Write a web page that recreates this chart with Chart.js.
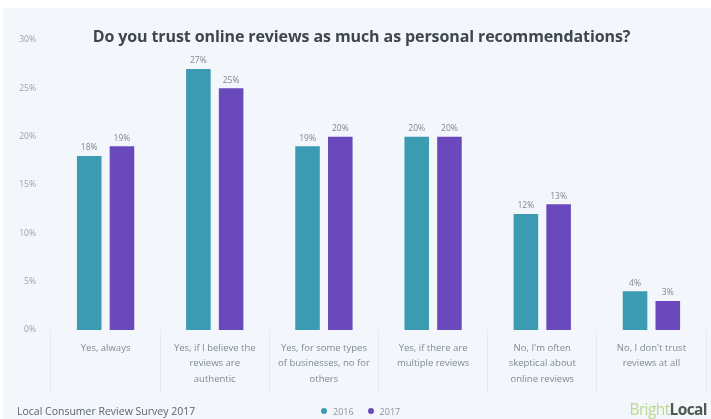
<!DOCTYPE html>
<html>
<head>
<meta charset="utf-8">
<title>Online reviews vs personal recommendations</title>
<script src="https://cdn.jsdelivr.net/npm/chart.js@4.4.1/dist/chart.umd.min.js"></script>
<style>
  html, body { margin: 0; padding: 0; background: #fff; }
  #wrap { position: relative; width: 711px; height: 419px; overflow: hidden; font-family: "Open Sans", sans-serif; }
  #panel { position: absolute; left: 3px; top: 8px; right: 0; bottom: 0; background: #f3f6fa; }
  #chart { position: absolute; left: 0; top: 0; }
  #title { position: absolute; left: 6px; top: 25px; width: 711px; text-align: center;
           font-size: 16px; font-weight: 700; color: #3f4651; letter-spacing: -0.1px; }
  #source { position: absolute; left: 17px; top: 404px; font-size: 10.5px; color: #5b6470; }
  #legend { position: absolute; left: 321px; top: 405px; font-size: 9px; color: #8a939d; }
  #legend span { margin-right: 14px; }
  #legend i { display: inline-block; width: 6px; height: 6px; border-radius: 50%; margin-right: 6px; vertical-align: 1px; }
  #logo { position: absolute; right: 4px; top: 398px; font-size: 15.5px; letter-spacing: -0.6px; }
  #logo .b { color: #bcd98e; }
  #logo .l { color: #4d5a52; font-weight: 700; }
</style>
</head>
<body>
<div id="wrap">
  <div id="panel"></div>
  <canvas id="chart" width="711" height="419"></canvas>
  <div id="title">Do you trust online reviews as much as personal recommendations?</div>
  <div id="source">Local Consumer Review Survey 2017</div>
  <div id="legend"></div>
  <div id="logo"><span class="b">Bright</span><span class="l">Local</span></div>
</div>
<script>
const categories = [
  ["Yes, always"],
  ["Yes, if I believe the", "reviews are", "authentic"],
  ["Yes, for some types", "of businesses, no for", "others"],
  ["Yes, if there are", "multiple reviews"],
  ["No, I'm often", "skeptical about", "online reviews"],
  ["No, I don't trust", "reviews at all"]
];
const years = ["2016", "2017"];
const share2016 = [18, 27, 19, 20, 12, 4];
const share2017 = [19, 25, 20, 20, 13, 3];
const seriesColors = ["#3b9bb3", "#6a49bd"];

// legend in the footer
document.getElementById("legend").innerHTML = years.map((y, i) =>
  `<span><i style="background:${seriesColors[i]}"></i>${y}</span>`).join("");

// percentage label above each bar
const barValueLabels = {
  id: "barValueLabels",
  afterDatasetsDraw(chart) {
    const ctx = chart.ctx;
    ctx.save();
    ctx.font = "8.5px 'Open Sans', sans-serif";
    ctx.fillStyle = "#7d8794";
    ctx.textAlign = "center";
    ctx.textBaseline = "bottom";
    chart.data.datasets.forEach((ds, di) => {
      chart.getDatasetMeta(di).data.forEach((bar, i) => {
        ctx.fillText(ds.data[i] + "%", bar.x, bar.y - 4);
      });
    });
    ctx.restore();
  }
};

new Chart(document.getElementById("chart"), {
  type: "bar",
  data: {
    labels: categories,
    datasets: [
      { label: years[0], data: share2016, backgroundColor: seriesColors[0] },
      { label: years[1], data: share2017, backgroundColor: seriesColors[1] }
    ]
  },
  options: {
    responsive: false,
    animation: false,
    devicePixelRatio: 1,
    categoryPercentage: 0.6,
    barPercentage: 0.75,
    layout: { padding: { top: 40, right: 5, bottom: 0, left: 0 } },
    scales: {
      y: {
        min: 0,
        max: 30,
        afterFit(scale) { scale.width = 51; },
        border: { display: false },
        grid: { display: false },
        ticks: {
          stepSize: 5,
          padding: 7,
          color: "#9aa3ad",
          font: { size: 8.5, family: "'Open Sans', sans-serif" },
          callback: v => v + "%"
        }
      },
      x: {
        afterFit(scale) { scale.height = 89; },
        border: { display: false },
        grid: {
          offset: true,
          drawOnChartArea: false,
          tickLength: 62,
          color: "rgba(120,135,150,0.10)"
        },
        ticks: {
          padding: -52,
          maxRotation: 0,
          color: "#7f8a96",
          font: { size: 9.5, family: "'Open Sans', sans-serif", lineHeight: 1.65 }
        }
      }
    },
    plugins: {
      legend: { display: false },
      tooltip: { enabled: false }
    }
  },
  plugins: [barValueLabels]
});
</script>
</body>
</html>
